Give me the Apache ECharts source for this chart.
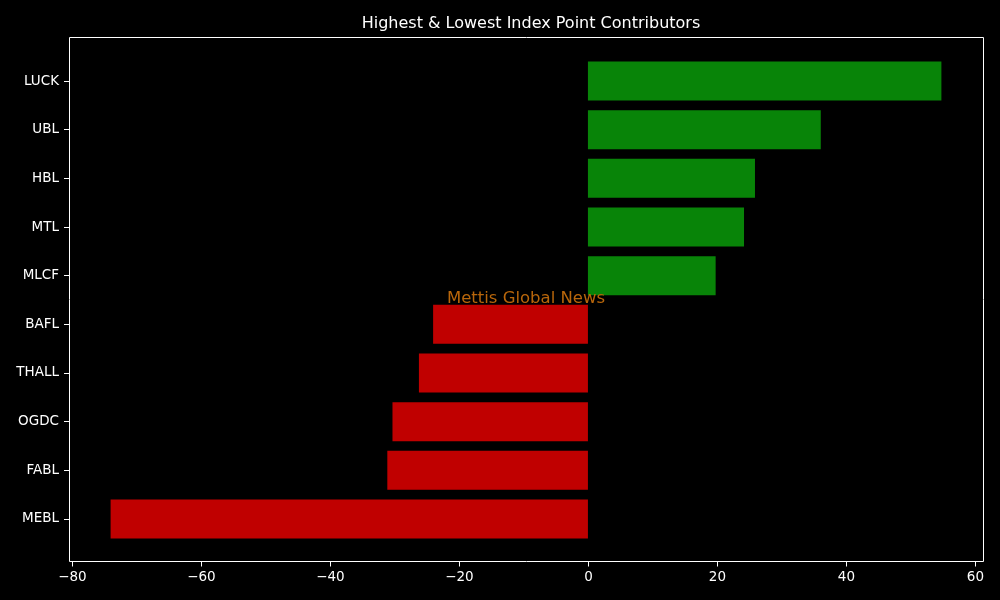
<!DOCTYPE html>
<html><head><meta charset="utf-8">
<script src="https://cdn.jsdelivr.net/npm/echarts@6/dist/echarts.min.js"></script>
<style>html,body{margin:0;padding:0;background:#000}#c{width:1000px;height:600px}</style>
</head><body><div id="c"></div>
<script>
const categories = ['LUCK','UBL','HBL','MTL','MLCF','BAFL','THALL','OGDC','FABL','MEBL'];
const values = [54.8, 36.1, 25.9, 24.2, 19.8, -24.0, -26.2, -30.3, -31.1, -74.0];
const xTicks = [-80, -60, -40, -20, 0, 20, 40, 60];
const titleText = 'Highest & Lowest Index Point Contributors';
const watermark = 'Mettis Global News';

const FONT = 'DejaVu Sans';
const xMin = -80.45, xMax = 61.25;
const fmt = v => String(v).replace('-', '\u2212');

const chart = echarts.init(document.getElementById('c'));
chart.setOption({
  backgroundColor: '#000',
  animation: false,
  title: {
    text: titleText, left: 526, top: 11, textAlign: 'center',
    textStyle: { color: '#fff', fontSize: 16, fontWeight: 'normal', fontFamily: FONT }
  },
  grid: [
    { left: 69.5, right: 16.5, top: 37.5, bottom: 38.5, show: true, borderColor: '#ffffff', borderWidth: 1, backgroundColor: '#000' },
    { left: 69, right: 17, top: 56.67, bottom: 56.67 }
  ],
  xAxis: [
    { type: 'value', gridIndex: 0, min: xMin, max: xMax,
      splitLine: { show: false },
      axisLine: { show: false },
      axisTick: { show: true, length: 5, lineStyle: { color: '#fff' }, customValues: xTicks },
      axisLabel: { color: '#fff', fontSize: 13.5, fontFamily: FONT, margin: 9, customValues: xTicks, formatter: fmt } },
    { type: 'value', gridIndex: 1, min: xMin, max: xMax, show: false }
  ],
  yAxis: [
    { type: 'value', gridIndex: 0, show: false },
    { type: 'category', gridIndex: 1, data: categories, inverse: true, position: 'left',
      axisLine: { show: false, onZero: false },
      axisTick: { show: true, alignWithLabel: true, length: 5, lineStyle: { color: '#fff' } },
      axisLabel: { color: '#fff', fontSize: 13.5, fontFamily: FONT, margin: 10, padding: [2, 0, 0, 0] } }
  ],
  series: [{
    type: 'bar', xAxisIndex: 1, yAxisIndex: 1, data: values, barWidth: '80%',
    itemStyle: { color: p => p.value >= 0 ? '#088408' : '#c00000' }
  }],
  graphic: [{
    type: 'text', x: 526, y: 299, z: 100,
    style: { text: watermark, fill: '#b8660b', font: '16.5px "DejaVu Sans"', textAlign: 'center', textVerticalAlign: 'middle' }
  }]
});
</script></body></html>
